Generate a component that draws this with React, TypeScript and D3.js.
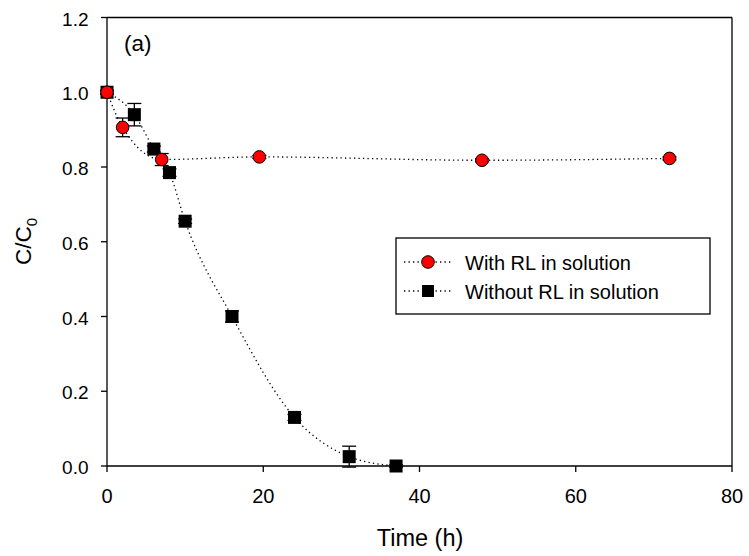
import React from "react";
import * as d3 from "d3";

const withTime = [0, 2, 7, 19.5, 48, 72];
const withVal = [1.0, 0.906, 0.82, 0.827, 0.818, 0.823];
const withErr = [0.005, 0.025, 0.016, 0.004, 0.004, 0.004];

const withoutTime = [0, 3.5, 6, 8, 10, 16, 24, 31, 37];
const withoutVal = [1.0, 0.94, 0.848, 0.785, 0.655, 0.4, 0.13, 0.025, 0.0];
const withoutErr = [0.005, 0.03, 0.008, 0.01, 0.006, 0.015, 0.008, 0.028, 0.003];

const xTicks = [0, 20, 40, 60, 80];
const yTicks = [0.0, 0.2, 0.4, 0.6, 0.8, 1.0, 1.2];
const seriesNames = ["With RL in solution", "Without RL in solution"];

const W = 749, H = 556;
const left = 107, right = 732, top = 17.5, bottom = 466;
const FONT = "'Liberation Sans', Arial, sans-serif";

export default function App() {
  const x = d3.scaleLinear().domain([0, 80]).range([left, right]);
  const y = d3.scaleLinear().domain([0, 1.2]).range([bottom, top]);
  const line = d3.line<[number, number]>().x(d => x(d[0])).y(d => y(d[1])).curve(d3.curveMonotoneX);
  const wPts = withTime.map((t, i) => [t, withVal[i]] as [number, number]);
  const woPts = withoutTime.map((t, i) => [t, withoutVal[i]] as [number, number]);
  const cap = 7;
  const errBars = (ts: number[], vs: number[], es: number[], key: string) =>
    ts.map((t, i) => {
      const cx = x(t), y1 = y(vs[i] + es[i]), y2 = y(vs[i] - es[i]);
      return (
        <g key={key + i} stroke="#000" strokeWidth={1.3}>
          <line x1={cx} x2={cx} y1={y1} y2={y2} />
          <line x1={cx - cap} x2={cx + cap} y1={y1} y2={y1} />
          <line x1={cx - cap} x2={cx + cap} y1={y2} y2={y2} />
        </g>
      );
    });
  const sq = 13;
  return (
    <svg width={W} height={H} style={{ position: "absolute", left: 0, top: 0 }} fontFamily={FONT}>
      <rect x={0} y={0} width={W} height={H} fill="#fff" />
      {/* frame */}
      <line x1={left} x2={right} y1={top} y2={top} stroke="#000" strokeWidth={1.3} />
      <line x1={right} x2={right} y1={top} y2={bottom} stroke="#000" strokeWidth={1.3} />
      <line x1={left} x2={right} y1={bottom} y2={bottom} stroke="#000" strokeWidth={1.3} />
      <line x1={left} x2={left} y1={top} y2={bottom} stroke="#000" strokeWidth={1.3} />
      {xTicks.map(t => (
        <g key={"xt" + t}>
          <line x1={x(t)} x2={x(t)} y1={bottom} y2={bottom + 6} stroke="#000" strokeWidth={1.3} />
          <text x={x(t)} y={bottom + 37} fontSize={20} textAnchor="middle">{t}</text>
        </g>
      ))}
      {yTicks.map(t => (
        <g key={"yt" + t}>
          <line x1={left - 6} x2={left} y1={y(t)} y2={y(t)} stroke="#000" strokeWidth={1.3} />
          <text x={left - 18.5} y={y(t) + 8} fontSize={19} textAnchor="end">{t.toFixed(1)}</text>
        </g>
      ))}
      <text x={420} y={546} fontSize={23.5} textAnchor="middle">Time (h)</text>
      <text transform={`translate(30.5,${241.5}) rotate(-90)`} fontSize={22.5} textAnchor="middle">
        C/C<tspan fontSize={15} dy={6}>0</tspan>
      </text>
      <text x={124} y={51} fontSize={22.5}>(a)</text>

      <path d={line(woPts) || ""} fill="none" stroke="#000" strokeWidth={1.3} strokeDasharray="1.3,3.2" />
      <path d={line(wPts) || ""} fill="none" stroke="#000" strokeWidth={1.3} strokeDasharray="1.3,3.2" />

      {errBars(withTime, withVal, withErr, "we")}
      {errBars(withoutTime, withoutVal, withoutErr, "woe")}

      {woPts.map((p, i) => (
        <rect key={"sq" + i} x={x(p[0]) - sq / 2} y={y(p[1]) - sq / 2} width={sq} height={sq} fill="#000" />
      ))}
      {wPts.map((p, i) => (
        <circle key={"c" + i} cx={x(p[0])} cy={y(p[1])} r={6.3} fill="#ff0000" stroke="#000" strokeWidth={1} />
      ))}

      {/* legend */}
      <rect x={396} y={238} width={314} height={76} fill="#fff" stroke="#000" strokeWidth={1.3} />
      {seriesNames.map((name, i) => {
        const ly = 262 + i * 29;
        return (
          <g key={"lg" + i}>
            <line x1={404} x2={452} y1={ly} y2={ly} stroke="#000" strokeWidth={1.3} strokeDasharray="1.3,3.2" />
            {i === 0 ? (
              <circle cx={428} cy={ly} r={6.3} fill="#ff0000" stroke="#000" strokeWidth={1} />
            ) : (
              <rect x={428 - 6} y={ly - 6} width={12} height={12} fill="#000" />
            )}
            <text x={465} y={ly + 7.5} fontSize={20}>{name}</text>
          </g>
        );
      })}
    </svg>
  );
}
